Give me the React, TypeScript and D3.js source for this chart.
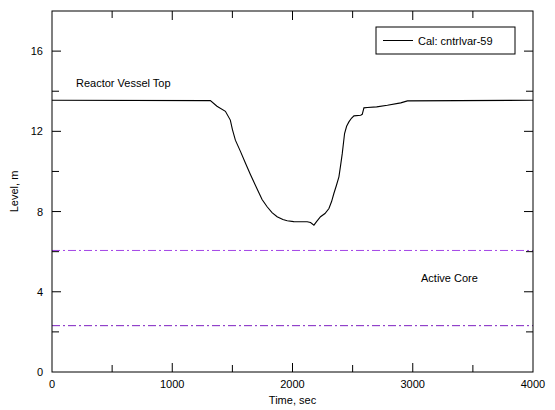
import React, { useEffect, useRef } from "react";
import * as d3 from "d3";

// Cal: cntrlvar-59 level trace (time in sec, level in m)
const timeSec = [0, 1317, 1372, 1442, 1483, 1500, 1525, 1567, 1610, 1650, 1700, 1747, 1789, 1830, 1872, 1920, 1956, 2010, 2067, 2122, 2150, 2178, 2200, 2233, 2270, 2303, 2325, 2344, 2365, 2386, 2400, 2414, 2433, 2450, 2469, 2490, 2511, 2567, 2580, 2594, 2622, 2700, 2789, 2900, 2956, 4000];
const levelM = [13.55, 13.53, 13.25, 13.0, 12.56, 12.1, 11.56, 11.0, 10.4, 9.85, 9.2, 8.6, 8.24, 7.95, 7.74, 7.6, 7.54, 7.5, 7.49, 7.49, 7.45, 7.32, 7.5, 7.74, 7.9, 8.15, 8.5, 8.9, 9.3, 9.73, 10.3, 10.9, 11.89, 12.25, 12.47, 12.65, 12.77, 12.8, 12.85, 13.17, 13.19, 13.22, 13.3, 13.42, 13.52, 13.55];

const refLevels = [6.06, 2.31];
const refColors = ["#a445e6", "#7d1fc0"];

const xTicks = [0, 1000, 2000, 3000, 4000];
const xMinor = [500, 1500, 2500, 3500];
const yTicks = [0, 4, 8, 12, 16];
const yMinor = [2, 6, 10, 14];

const W = 555;
const H = 410;
const margin = { left: 52, right: 22, top: 11, bottom: 38 };

export default function App() {
  const svgRef = useRef<SVGSVGElement>(null);

  useEffect(() => {
    const svg = d3.select(svgRef.current);
    svg.selectAll("*").remove();

    const x = d3.scaleLinear().domain([0, 4000]).range([margin.left, W - margin.right]);
    const y = d3.scaleLinear().domain([0, 18]).range([H - margin.bottom, margin.top]);
    const x0 = x.range()[0], x1 = x.range()[1];
    const y0 = y.range()[0], y1 = y.range()[1];
    const font = "Arial, 'Liberation Sans', sans-serif";

    // reference lines
    refLevels.forEach((lv, i) => {
      svg.append("line")
        .attr("x1", x0).attr("x2", x1)
        .attr("y1", y(lv)).attr("y2", y(lv))
        .attr("stroke", refColors[i]).attr("stroke-width", 1)
        .attr("stroke-dasharray", "8,3,2,3");
    });

    // data curve
    const pts = timeSec.map((t, i) => [t, levelM[i]] as [number, number]);
    const line = d3.line<[number, number]>().x(d => x(d[0])).y(d => y(d[1]));
    svg.append("path")
      .datum(pts)
      .attr("fill", "none")
      .attr("stroke", "black")
      .attr("stroke-width", 1.1)
      .attr("d", line);

    // frame
    svg.append("rect")
      .attr("x", x0).attr("y", y1)
      .attr("width", x1 - x0).attr("height", y0 - y1)
      .attr("fill", "none").attr("stroke", "black").attr("stroke-width", 1);

    const ticks = svg.append("g").attr("stroke", "black").attr("stroke-width", 1);
    const drawX = (vals: number[], len: number) => vals.forEach(v => {
      ticks.append("line").attr("x1", x(v)).attr("x2", x(v)).attr("y1", y0).attr("y2", y0 - len);
      ticks.append("line").attr("x1", x(v)).attr("x2", x(v)).attr("y1", y1).attr("y2", y1 + len);
    });
    const drawY = (vals: number[], len: number) => vals.forEach(v => {
      ticks.append("line").attr("x1", x0).attr("x2", x0 + len).attr("y1", y(v)).attr("y2", y(v));
      ticks.append("line").attr("x1", x1).attr("x2", x1 - len).attr("y1", y(v)).attr("y2", y(v));
    });
    drawX(xTicks.slice(1, -1), 9);
    drawX(xMinor, 7);
    drawY(yTicks.slice(1), 9);
    drawY(yMinor, 7);

    // tick labels
    svg.append("g").selectAll("text").data(xTicks).enter().append("text")
      .attr("x", d => x(d)).attr("y", y0 + 16)
      .attr("text-anchor", "middle")
      .attr("font-family", font).attr("font-size", 11)
      .text(d => d);
    svg.append("g").selectAll("text").data(yTicks).enter().append("text")
      .attr("x", x0 - 9).attr("y", d => y(d) + 4)
      .attr("text-anchor", "end")
      .attr("font-family", font).attr("font-size", 11)
      .text(d => d);

    // axis titles
    svg.append("text")
      .attr("x", (x0 + x1) / 2).attr("y", y0 + 32)
      .attr("text-anchor", "middle")
      .attr("font-family", font).attr("font-size", 11)
      .text("Time, sec");
    svg.append("text")
      .attr("transform", `translate(18,${(y0 + y1) / 2}) rotate(-90)`)
      .attr("text-anchor", "middle")
      .attr("font-family", font).attr("font-size", 11)
      .text("Level, m");

    // annotations
    svg.append("text")
      .attr("x", 76).attr("y", 87)
      .attr("font-family", font).attr("font-size", 11)
      .text("Reactor Vessel Top");
    svg.append("text")
      .attr("x", 421).attr("y", 282)
      .attr("font-family", font).attr("font-size", 11)
      .text("Active Core");

    // legend
    const lg = svg.append("g");
    lg.append("rect")
      .attr("x", 376).attr("y", 27).attr("width", 139).attr("height", 27)
      .attr("fill", "white").attr("stroke", "black").attr("stroke-width", 1);
    lg.append("line")
      .attr("x1", 383).attr("x2", 413).attr("y1", 40.5).attr("y2", 40.5)
      .attr("stroke", "black").attr("stroke-width", 1);
    lg.append("text")
      .attr("x", 418).attr("y", 44.5)
      .attr("font-family", font).attr("font-size", 11)
      .text("Cal: cntrlvar-59");
  }, []);

  return (
    <svg ref={svgRef} width={W} height={H}
      style={{ position: "absolute", left: 0, top: 0, background: "white", display: "block" }} />
  );
}
